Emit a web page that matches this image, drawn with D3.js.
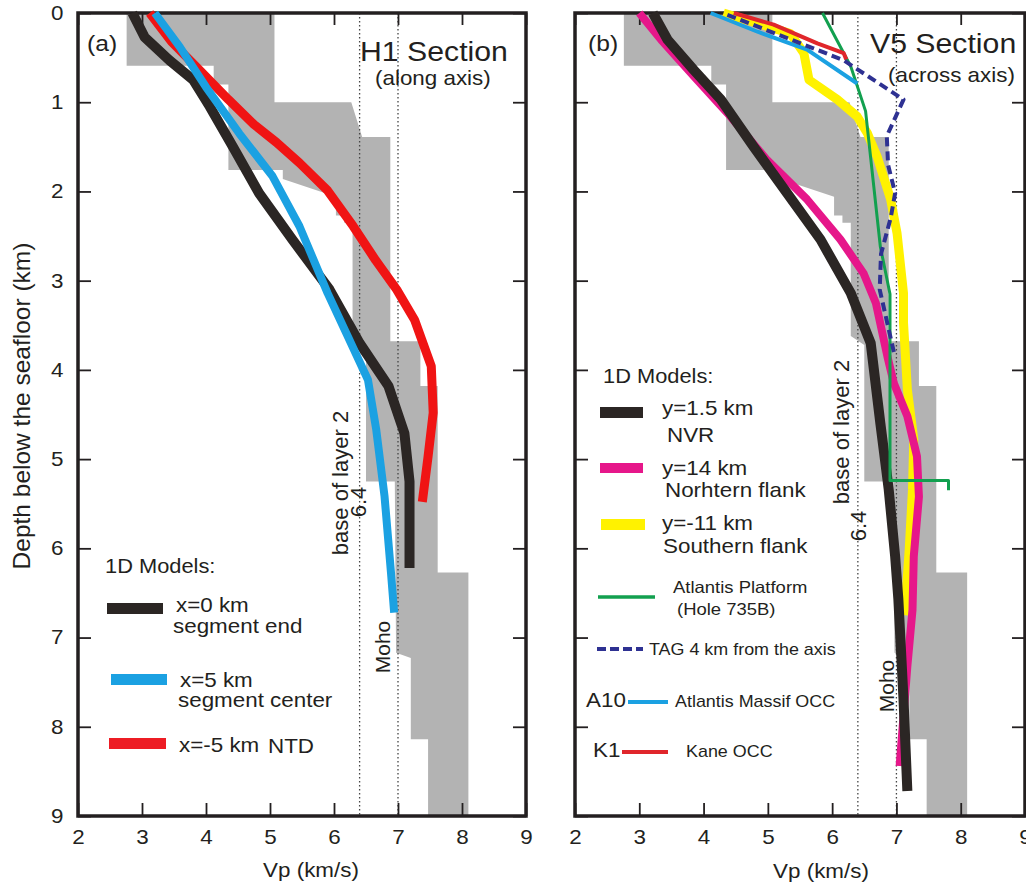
<!DOCTYPE html>
<html>
<head>
<meta charset="utf-8">
<script src="https://cdn.jsdelivr.net/npm/d3@7"></script>
<style>
  body { margin: 0; background: #fff; }
  svg { display: block; }
  text { font-family: "Liberation Sans", Arial, sans-serif; fill: #231f20; }
</style>
</head>
<body>
<svg id="chart" width="1026" height="884"></svg>
<script>
// all series are [Vp (km/s), depth below seafloor (km)]

// grey reference band, same in both panels
var envelope = [[2.76,0],[5.07,0],[5.07,1.0],[6.27,1.0],[6.44,1.39],[6.88,1.39],[6.88,3.68],
  [7.35,3.68],[7.35,4.18],[7.62,4.18],[7.62,6.27],[8.1,6.27],[8.1,9],[7.47,9],[7.47,8.14],
  [7.2,8.14],[7.2,7.23],[6.97,7.17],[6.95,5.25],[6.5,5.25],[6.5,3.72],[6.29,3.62],[6.29,2.35],
  [6.16,2.35],[6.16,2.27],[6.03,2.27],[6.03,2.06],[5.2,1.86],[5.2,1.76],[4.35,1.76],[4.35,0.8],
  [4.12,0.8],[4.12,0.59],[2.76,0.59]];

// H1 section (along axis)
var h1SegmentEnd = [[2.85,0],[3.04,0.27],[3.43,0.53],[3.8,0.75],[4.06,1.05],[4.42,1.5],[4.83,2.02],
  [5.35,2.54],[5.93,3.1],[6.4,3.7],[6.85,4.18],[7.1,4.71],[7.18,5.25],[7.18,6.22]];
var h1SegmentCenter = [[3.2,0],[3.59,0.38],[4.0,0.83],[4.52,1.35],[5.04,1.83],[5.46,2.39],[5.9,3.14],
  [6.2,3.6],[6.53,4.11],[6.66,4.67],[6.79,5.42],[6.89,6.27],[6.94,6.72]];
var h1NTD = [[3.12,0],[3.46,0.32],[3.9,0.64],[4.35,0.97],[4.75,1.25],[5.1,1.45],[5.46,1.68],
  [5.9,1.99],[6.3,2.39],[6.65,2.77],[6.98,3.1],[7.26,3.44],[7.52,3.96],[7.55,4.48],[7.47,4.97],[7.38,5.48]];

// V5 section (across axis)
var v5NVR = [[3.21,0],[3.44,0.3],[3.85,0.64],[4.27,0.97],[4.78,1.5],[5.3,2.02],[5.82,2.54],
  [6.29,3.14],[6.6,3.7],[6.75,4.6],[6.88,5.34],[6.98,6.09],[7.03,6.57],[7.11,7.69],[7.17,8.72]];
var v5North = [[3.0,0],[3.34,0.3],[3.85,0.71],[4.37,1.12],[4.99,1.65],[5.61,2.09],[6.13,2.54],
  [6.49,2.92],[6.68,3.25],[6.86,3.85],[6.96,4.15],[7.17,4.52],[7.32,4.97],[7.35,5.42],[7.27,6.09],
  [7.25,6.69],[7.17,7.32],[7.05,8.44]];
var v5South = [[4.31,0],[4.99,0.15],[5.35,0.23],[5.56,0.45],[5.64,0.75],[6.08,0.97],[6.39,1.16],
  [6.55,1.35],[6.7,1.61],[6.91,2.09],[7.01,2.47],[7.11,3.14],[7.11,3.47],[7.17,4.22],[7.27,4.78],
  [7.25,5.34],[7.2,6.0],[7.13,6.75]];
var atlantisPlatform = [[5.85,0],[6.29,0.6],[6.52,1.1],[6.75,2.62],[6.9,3.15],[6.9,5.24],[7.81,5.24],[7.81,5.35]];
var tag4km = [[4.37,0.02],[5.51,0.34],[6.18,0.53],[7.11,0.97],[6.85,1.38],[6.87,1.7],[6.98,2.02],
  [6.91,2.3],[6.76,2.7],[6.74,3.1],[6.85,3.45],[6.96,3.8]];
var atlantisA10 = [[4.11,0],[4.84,0.21],[5.61,0.41],[6.39,0.79]];
var kaneK1 = [[4.47,0],[5.09,0.13],[5.77,0.34],[6.18,0.45],[6.22,0.52]];

var vpTicks = [2, 3, 4, 5, 6, 7, 8, 9];
var depthTicks = [0, 1, 2, 3, 4, 5, 6, 7, 8, 9];
var refLines = [6.4, 7.0];

var INK = "#231f20", SX = 1.12;
var svg = d3.select("#chart");
var y = d3.scaleLinear().domain([0, 9]).range([13, 816]);

function label(g, x, yy, s, size, anchor) {
    return g.append("text")
        .attr("transform", "translate(" + x + "," + yy + ") scale(" + SX + ",1)")
        .attr("text-anchor", anchor || "start")
        .style("font-size", size + "px")
        .text(s);
}

function vlabel(g, x, yy, s, size) {
    return g.append("text")
        .attr("transform", "translate(" + x + "," + yy + ") rotate(-90)")
        .attr("text-anchor", "middle")
        .style("font-size", size + "px")
        .text(s);
}

function panel(x0, x1, showYLabels) {
    var x = d3.scaleLinear().domain([2, 9]).range([x0, x1]);
    var g = svg.append("g");
    var line = d3.line().x(function(d){ return x(d[0]); }).y(function(d){ return y(d[1]); });

    g.append("path").datum(envelope).attr("d", line).attr("fill", "#b3b3b3");

    g.selectAll(".ref").data(refLines).enter().append("line")
        .attr("x1", function(d){ return x(d); }).attr("x2", function(d){ return x(d); })
        .attr("y1", y(0)).attr("y2", y(9))
        .attr("stroke", "#444").attr("stroke-width", 1.3).attr("stroke-dasharray", "1.4 2.6");

    var series = function(data, color, width, dash) {
        g.append("path").datum(data).attr("d", line)
            .attr("fill", "none").attr("stroke", color).attr("stroke-width", width)
            .attr("stroke-linejoin", "round")
            .attr("stroke-dasharray", dash || null);
    };

    var styleAxis = function(a) {
        a.select(".domain").remove();
        a.attr("color", INK);
        a.selectAll(".tick line").attr("stroke-width", 1.8);
        a.selectAll("text").style("font-size", "20px").attr("transform", "scale(" + SX + ",1)");
    };

    g.append("g").attr("transform", "translate(0," + y(9) + ")")
        .call(d3.axisBottom(x).tickValues(vpTicks).tickSizeInner(-13).tickSizeOuter(0).tickPadding(14)
            .tickFormat(d3.format("d")))
        .call(styleAxis);
    g.append("g").attr("transform", "translate(0," + y(0) + ")")
        .call(d3.axisTop(x).tickValues(vpTicks).tickSizeInner(-12).tickSizeOuter(0).tickFormat(""))
        .call(styleAxis);
    g.append("g").attr("transform", "translate(" + x0 + ",0)")
        .call(d3.axisLeft(y).tickValues(depthTicks).tickSizeInner(-13).tickSizeOuter(0).tickPadding(13)
            .tickFormat(showYLabels ? d3.format("d") : ""))
        .call(styleAxis);
    g.append("g").attr("transform", "translate(" + x1 + ",0)")
        .call(d3.axisRight(y).tickValues(depthTicks).tickSizeInner(-13).tickSizeOuter(0).tickFormat(""))
        .call(styleAxis);

    g.append("rect").attr("x", x0).attr("y", y(0)).attr("width", x1 - x0).attr("height", y(9) - y(0))
        .attr("fill", "none").attr("stroke", INK).attr("stroke-width", 3.5);

    return { g: g, x: x, series: series };
}

// ---- panel (a)
var pa = panel(78, 526, true);
pa.series(h1NTD, "#f01414", 9);
pa.series(h1SegmentEnd, "#2b2624", 10);
pa.series(h1SegmentCenter, "#1ba1e2", 8);

label(pa.g, 87, 51, "(a)", 22);
label(pa.g, 360, 60.5, "H1 Section", 27);
label(pa.g, 375, 84.5, "(along axis)", 20);
vlabel(pa.g, 348, 483, "base of layer 2", 22);
vlabel(pa.g, 366, 502, "6.4", 22);
vlabel(pa.g, 390, 647, "Moho", 21);

label(pa.g, 105, 573, "1D Models:", 19.5);
pa.g.append("rect").attr("x", 107).attr("y", 603).attr("width", 56).attr("height", 11).attr("fill", "#2b2624");
label(pa.g, 176, 612, "x=0 km", 20);
label(pa.g, 173, 633, "segment end", 20);
pa.g.append("rect").attr("x", 111).attr("y", 674).attr("width", 56).attr("height", 11).attr("fill", "#1ba1e2");
label(pa.g, 180, 687, "x=5 km", 20);
label(pa.g, 178, 707, "segment center", 20);
pa.g.append("rect").attr("x", 109).attr("y", 738).attr("width", 57).attr("height", 11).attr("fill", "#ed1c24");
label(pa.g, 179, 752, "x=-5 km", 20);
label(pa.g, 268, 753, "NTD", 20);
label(pa.g, 311, 877, "Vp (km/s)", 20, "middle");

// ---- panel (b)
var pb = panel(575, 1025, false);
pb.series(v5South, "#fff200", 9);
pb.series(v5North, "#e6178a", 8);
pb.series(v5NVR, "#2b2624", 10);
pb.series(atlantisPlatform, "#12a04f", 3);
pb.series(atlantisA10, "#1ba1e2", 4);
pb.series(kaneK1, "#e0262b", 4);
pb.series(tag4km, "#2e3192", 4, "9 5");

label(pb.g, 588, 51, "(b)", 22);
label(pb.g, 870, 53, "V5 Section", 27);
label(pb.g, 888, 82, "(across axis)", 20);
vlabel(pb.g, 849, 432, "base of layer 2", 22);
vlabel(pb.g, 866, 526, "6.4", 22);
vlabel(pb.g, 894, 686, "Moho", 21);

label(pb.g, 603, 383, "1D Models:", 19.5);
pb.g.append("rect").attr("x", 600).attr("y", 407).attr("width", 43).attr("height", 11).attr("fill", "#2b2624");
label(pb.g, 662, 415, "y=1.5 km", 20);
label(pb.g, 667, 442, "NVR", 20);
pb.g.append("rect").attr("x", 600).attr("y", 463).attr("width", 43).attr("height", 10).attr("fill", "#e6178a");
label(pb.g, 662, 475, "y=14 km", 20);
label(pb.g, 665, 497, "Norhtern flank", 20);
pb.g.append("rect").attr("x", 601).attr("y", 519).attr("width", 44).attr("height", 11).attr("fill", "#fff200");
label(pb.g, 662, 530, "y=-11 km", 20);
label(pb.g, 663, 553, "Southern flank", 20);

var legLine = function(x1, x2, yy, color, w, dash) {
    pb.g.append("line").attr("x1", x1).attr("x2", x2).attr("y1", yy).attr("y2", yy)
        .attr("stroke", color).attr("stroke-width", w).attr("stroke-dasharray", dash || null);
};
legLine(598, 655, 597, "#12a04f", 3.5);
label(pb.g, 673, 593, "Atlantis Platform", 16.5);
label(pb.g, 677, 615, "(Hole 735B)", 16.5);
legLine(597, 643, 649, "#2e3192", 4, "9 4");
label(pb.g, 649, 655, "TAG 4 km from the axis", 16);
label(pb.g, 586, 707, "A10", 20);
legLine(628, 668, 702, "#1ba1e2", 4);
label(pb.g, 675, 707, "Atlantis Massif OCC", 16);
label(pb.g, 593, 757, "K1", 20);
legLine(622, 668, 752, "#e0262b", 4);
label(pb.g, 686, 757, "Kane OCC", 16);
label(pb.g, 821, 878, "Vp (km/s)", 20, "middle");

// shared y title
vlabel(svg, 29.5, 406, "Depth below the seafloor (km)", 24.5);
</script>
</body>
</html>
